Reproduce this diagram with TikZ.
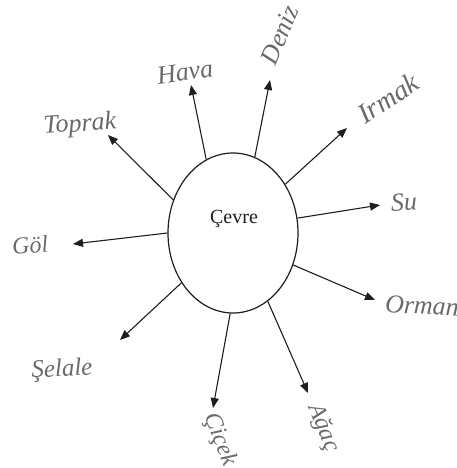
\documentclass[tikz,border=0pt]{standalone}
\usepackage{fontspec}
\setmainfont{Liberation Serif}
\usetikzlibrary{arrows.meta,shapes.geometric}
\definecolor{hand}{RGB}{105,105,105}
\definecolor{ink}{RGB}{30,30,30}
\tikzset{
  hw/.style={text=hand, inner sep=0pt, font=\fontsize{#1}{#1}\selectfont\itshape},
  hw/.default=24,
  conn/.style={draw=ink, line width=1.1pt, -{Triangle[length=10pt,width=8pt]}},
}
\begin{document}
\begin{tikzpicture}[x=1pt,y=-1pt]
\useasboundingbox (0,0) rectangle (457,468);
\clip (0,0) rectangle (457,468);
\node[ellipse, draw=ink, line width=1.2pt, minimum width=130pt, minimum height=160pt, inner sep=0pt] (c) at (233,233) {};
\node[font=\fontsize{20}{20}\selectfont, text=ink] (t) at (234,219) {Çevre};
% arrow tips
\coordinate (hava) at (191,85);
\coordinate (deniz) at (270,80);
\coordinate (irmak) at (347,128);
\coordinate (su) at (380,205);
\coordinate (orman) at (375,300);
\coordinate (agac) at (308,393);
\coordinate (cicek) at (213,408);
\coordinate (selale) at (120,340);
\coordinate (gol) at (73,244);
\coordinate (toprak) at (108,135);
% labels
\node[hw=26, rotate=8] (Lhava) at (185,72) {Hava};
\node[hw=26, rotate=67] (Ldeniz) at (280,35) {Deniz};
\node[hw=28, rotate=33] (Lirmak) at (388,98) {Irmak};
\node[hw=26, rotate=3] (Lsu) at (404,202) {Su};
\node[hw=26, rotate=-3, anchor=west] (Lorman) at (385,304) {Orman};
\node[hw=24, rotate=-68] (Lagac) at (323,428) {Ağaç};
\node[hw=24, rotate=-68] (Lcicek) at (220,440) {Çiçek};
\node[hw=25, rotate=3] (Lselale) at (62,370) {Şelale};
\node[hw=24, rotate=5] (Lgol) at (30,245) {Göl};
\node[hw=26, rotate=4] (Ltoprak) at (80,125) {Toprak};
% connectors
\draw[conn] (c.110) -- (hava);
\draw[conn] (c.74) -- (deniz);
\draw[conn] (c.43) -- (irmak);
\draw[conn] (c.13) -- (su);
\draw[conn] (c.-28) -- (orman);
\draw[conn] (c.-63) -- (agac);
\draw[conn] (c.-92) -- (cicek);
\draw[conn] (c.-136) -- (selale);
\draw[conn] (c.180) -- (gol);
\draw[conn] (c.151) -- (toprak);
\end{tikzpicture}
\end{document}
